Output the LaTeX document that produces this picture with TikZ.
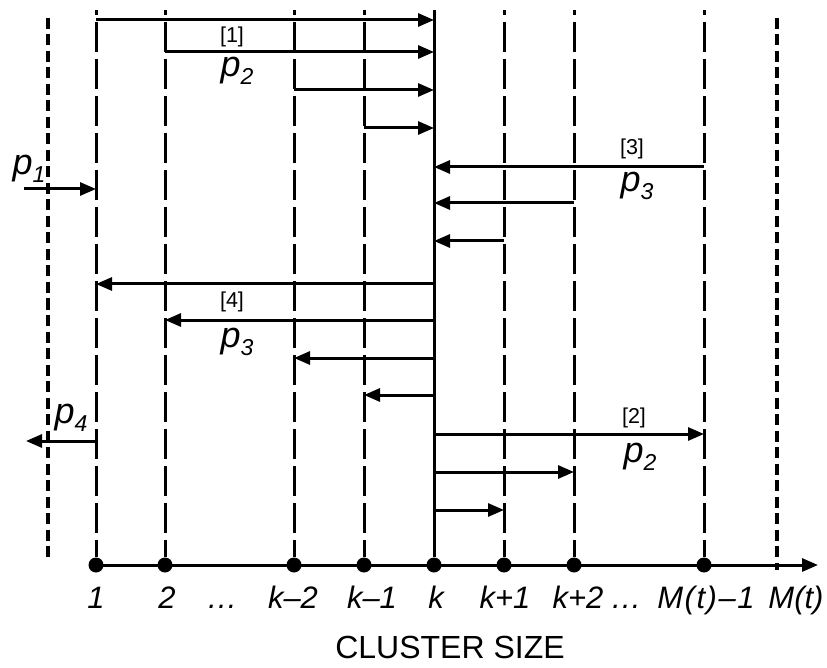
\documentclass[tikz,border=0pt]{standalone}
\usepackage{fontspec}
\setmainfont{Liberation Sans}
\usetikzlibrary{arrows.meta}
\tikzset{
  vline/.style={line width=3pt, dash pattern=on 30pt off 7pt, dash phase=25pt},
  bound/.style={line width=4.5pt, dash pattern=on 11pt off 5.5pt},
  kline/.style={line width=3pt},
  flow/.style={line width=3pt, -{Triangle[length=16pt,width=13pt]}},
  axisline/.style={line width=3pt, -{Triangle[length=16pt,width=13pt]}},
  axislab/.style={anchor=base, inner sep=0pt, font=\fontsize{31}{31}\selectfont\itshape},
  tag/.style={inner sep=0pt, font=\fontsize{21.5}{21.5}\selectfont},
  plab/.style={anchor=base, inner sep=0pt},
  sizedot/.style={circle, fill, inner sep=0pt, minimum size=15pt},
  title/.style={anchor=base, inner sep=0pt, font=\fontsize{32}{32}\selectfont},
}
\newcommand{\plabel}[1]{{\fontsize{36}{36}\selectfont\itshape p}{\fontsize{23}{23}\selectfont\itshape\raisebox{-8pt}{#1}}}
\begin{document}
\begin{tikzpicture}[x=1pt,y=-1pt]
\useasboundingbox (0,0) rectangle (827,668);
% column tops
\coordinate (t1) at (96,10);
\coordinate (t2) at (165,10);
\coordinate (tkm2) at (294,10);
\coordinate (tkm1) at (364,10);
\coordinate (tk) at (434,10);
\coordinate (tkp1) at (504,10);
\coordinate (tkp2) at (574,10);
\coordinate (tm1) at (704,10);
% axis dots
\node[sizedot] (d1) at (96,565) {};
\node[sizedot] (d2) at (165,565) {};
\node[sizedot] (dkm2) at (294,565) {};
\node[sizedot] (dkm1) at (364,565) {};
\node[sizedot] (dk) at (434,565) {};
\node[sizedot] (dkp1) at (504,565) {};
\node[sizedot] (dkp2) at (574,565) {};
\node[sizedot] (dm1) at (704,565) {};
\coordinate (axend) at (818,565);
% boundaries
\coordinate (bl1) at (48,18);
\coordinate (bl2) at (48,562);
\coordinate (br1) at (777,18);
\coordinate (br2) at (777,570);
\draw[bound] (bl1) -- (bl2);
\draw[bound] (br1) -- (br2);
% vertical lines
\draw[vline] (t1) -- (d1);
\draw[vline] (t2) -- (d2);
\draw[vline] (tkm2) -- (dkm2);
\draw[vline] (tkm1) -- (dkm1);
\draw[kline] (tk) -- (dk);
\draw[vline] (tkp1) -- (dkp1);
\draw[vline] (tkp2) -- (dkp2);
\draw[vline] (tm1) -- (dm1);
% axis
\draw[axisline] (d1.center) -- (axend);
% rows
\coordinate (r1) at (0,20);
\coordinate (r2) at (0,52);
\coordinate (r3) at (0,90);
\coordinate (r4) at (0,128);
\coordinate (r5) at (0,167);
\coordinate (r6) at (0,203);
\coordinate (r7) at (0,241);
\coordinate (r8) at (0,284);
\coordinate (r9) at (0,320);
\coordinate (r10) at (0,358);
\coordinate (r11) at (0,395);
\coordinate (r12) at (0,434);
\coordinate (r13) at (0,472);
\coordinate (r14) at (0,510);
% [1]
\draw[flow] (t1 |- r1) -- (tk |- r1);
\draw[flow] (t2 |- r2) -- (tk |- r2);
\draw[flow] (tkm2 |- r3) -- (tk |- r3);
\draw[flow] (tkm1 |- r4) -- (tk |- r4);
% [3]
\draw[flow] (tm1 |- r5) -- (tk |- r5);
\draw[flow] (tkp2 |- r6) -- (tk |- r6);
\draw[flow] (tkp1 |- r7) -- (tk |- r7);
% [4]
\draw[flow] (tk |- r8) -- (t1 |- r8);
\draw[flow] (tk |- r9) -- (t2 |- r9);
\draw[flow] (tk |- r10) -- (tkm2 |- r10);
\draw[flow] (tk |- r11) -- (tkm1 |- r11);
% [2]
\draw[flow] (tk |- r12) -- (tm1 |- r12);
\draw[flow] (tk |- r13) -- (tkp2 |- r13);
\draw[flow] (tk |- r14) -- (tkp1 |- r14);
% p1, p4
\coordinate (p1s) at (24,189);
\coordinate (p4e) at (26,441);
\draw[flow] (p1s) -- (t1 |- p1s);
\draw[flow] (t1 |- p4e) -- (p4e);
% labels
\node[tag] (tag1) at (232,37) {[1]};
\node[plab] (lab1) at (237,77) {\plabel{2}};
\node[tag] (tag3) at (632,149) {[3]};
\node[plab] (lab3) at (637,192) {\plabel{3}};
\node[tag] (tag4) at (232,302) {[4]};
\node[plab] (lab4) at (237,347) {\plabel{3}};
\node[tag] (tag2) at (634,418) {[2]};
\node[plab] (lab2) at (640,462) {\plabel{2}};
\node[plab] (labp1) at (29,175) {\plabel{1}};
\node[plab] (labp4) at (71,423) {\plabel{4}};
% axis labels
\node[axislab] (x1) at (96,608) {1};
\node[axislab] (x2) at (167,608) {2};
\node[axislab] (xd1) at (222,608) {\dots};
\node[axislab] (xkm2) at (293,608) {k–2};
\node[axislab] (xkm1) at (372,608) {k–1};
\node[axislab] (xk) at (436,608) {k};
\node[axislab] (xkp1) at (505,608) {k+1};
\node[axislab] (xkp2) at (578,608) {k+2};
\node[axislab] (xd2) at (626,608) {\dots};
\node[axislab] (xm1) at (706,608) {\addfontfeatures{LetterSpace=5}M(t)–1};
\node[axislab] (xm) at (796,608) {M(t)};
\node[title] (ttl) at (450,658) {CLUSTER SIZE};
\end{tikzpicture}
\end{document}
